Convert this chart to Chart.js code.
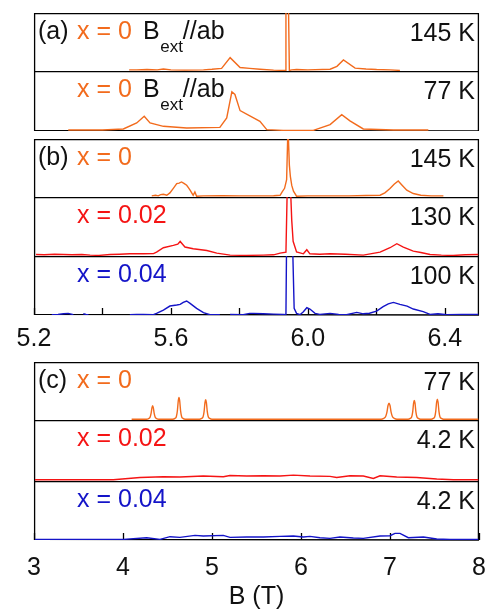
<!DOCTYPE html>
<html>
<head>
<meta charset="utf-8">
<script src="https://cdn.jsdelivr.net/npm/chart.js@4.4.1/dist/chart.umd.min.js"></script>
<style>
  html, body { margin: 0; padding: 0; background: #fff; overflow: hidden; }
  #wrap { position: relative; width: 489px; height: 614px; }
  canvas { position: absolute; left: 0; }
</style>
</head>
<body>
<div id="wrap">
  <canvas id="a1" width="489" height="58" style="top:13px"></canvas>
  <canvas id="a2" width="489" height="60" style="top:71px"></canvas>
  <canvas id="b1" width="489" height="58" style="top:139px"></canvas>
  <canvas id="b2" width="489" height="59" style="top:197px"></canvas>
  <canvas id="b3" width="489" height="99" style="top:256px"></canvas>
  <canvas id="c1" width="489" height="58" style="top:362px"></canvas>
  <canvas id="c2" width="489" height="61" style="top:420px"></canvas>
  <canvas id="c3" width="489" height="133" style="top:481px"></canvas>
</div>
<script>
// colours of the three compositions
const ORANGE = '#f26b1d';
const RED = '#f51414';
const BLUE = '#1414c8';
const FONT = '"Liberation Sans", Arial, Helvetica, sans-serif';

// field axes (T)
const bRange = [5.2, 6.5];
const cRange = [3, 8];
const bTickValues = [5.2, 5.4, 5.6, 5.8, 6.0, 6.2, 6.4];
const bTickLabels = ['5.2', '', '5.6', '', '6.0', '', '6.4'];
const cTickValues = [3, 4, 5, 6, 7, 8];
const cTickLabels = ['3', '4', '5', '6', '7', '8'];

// (a) x = 0, Bext//ab, 145 K
const a1B = [5.478, 5.50, 5.53, 5.56, 5.578, 5.60, 5.64, 5.695, 5.72, 5.748, 5.773, 5.802, 5.83, 5.86, 5.90, 5.930, 5.934, 5.936, 5.943, 5.946, 5.953, 5.967, 6.00, 6.065, 6.085, 6.104, 6.138, 6.17, 6.201, 6.24, 6.269];
const a1Y = [0.02, 0.02, 0.025, 0.02, 0.035, 0.02, 0.015, 0.02, 0.03, 0.045, 0.23, 0.06, 0.045, 0.03, 0.015, 0.01, 0.01, 1.3, 1.3, 0.01, 0.02, 0.025, 0.02, 0.03, 0.08, 0.19, 0.05, 0.035, 0.025, 0.02, 0.01];
// (a) x = 0, Bext//ab, 77 K
const a2B = [5.30, 5.40, 5.461, 5.50, 5.522, 5.539, 5.578, 5.646, 5.743, 5.763, 5.778, 5.787, 5.802, 5.860, 5.880, 5.928, 6.016, 6.065, 6.099, 6.123, 6.162, 6.25, 6.352];
const a2Y = [0.017, 0.017, 0.034, 0.134, 0.246, 0.134, 0.078, 0.05, 0.061, 0.218, 0.653, 0.608, 0.34, 0.162, 0.022, 0.011, 0.011, 0.106, 0.273, 0.17, 0.034, 0.017, 0.017];

// (b) x = 0, 145 K
const b1B = [5.544, 5.555, 5.563, 5.570, 5.578, 5.588, 5.597, 5.607, 5.617, 5.624, 5.631, 5.638, 5.646, 5.651, 5.656, 5.662, 5.665, 5.670, 5.675, 5.695, 5.75, 5.80, 5.85, 5.90, 5.919, 5.925, 5.932, 5.938, 5.941, 5.943, 5.946, 5.949, 5.953, 5.958, 5.967, 6.0, 6.065, 6.12, 6.17, 6.211, 6.225, 6.240, 6.252, 6.264, 6.276, 6.289, 6.308, 6.33, 6.36, 6.396];
const b1Y = [0.02, 0.03, 0.02, 0.04, 0.048, 0.031, 0.071, 0.15, 0.231, 0.24, 0.259, 0.235, 0.202, 0.16, 0.117, 0.06, 0.031, 0.088, 0.014, 0.02, 0.022, 0.02, 0.02, 0.022, 0.03, 0.09, 0.15, 0.3, 1.0, 1.05, 0.55, 0.35, 0.2, 0.1, 0.014, 0.02, 0.02, 0.02, 0.025, 0.031, 0.071, 0.145, 0.22, 0.276, 0.2, 0.117, 0.06, 0.03, 0.02, 0.02];
// (b) x = 0.02, 130 K
const b2B = [5.206, 5.23, 5.26, 5.286, 5.31, 5.34, 5.364, 5.39, 5.422, 5.45, 5.480, 5.52, 5.549, 5.558, 5.578, 5.607, 5.620, 5.627, 5.634, 5.641, 5.665, 5.705, 5.734, 5.773, 5.82, 5.870, 5.90, 5.919, 5.936, 5.940, 5.949, 5.953, 5.957, 5.967, 5.987, 5.997, 6.006, 6.035, 6.065, 6.11, 6.162, 6.211, 6.240, 6.260, 6.279, 6.308, 6.33, 6.357, 6.39, 6.425, 6.46, 6.498];
const b2Y = [0.026, 0.02, 0.03, 0.026, 0.02, 0.026, 0.015, 0.01, 0.026, 0.03, 0.037, 0.037, 0.04, 0.066, 0.14, 0.179, 0.2, 0.247, 0.2, 0.152, 0.123, 0.094, 0.049, 0.015, 0.01, 0.015, 0.02, 0.049, 0.066, 1.2, 1.2, 0.6, 0.25, 0.07, 0.037, 0.106, 0.037, 0.03, 0.037, 0.03, 0.015, 0.066, 0.14, 0.208, 0.152, 0.083, 0.06, 0.026, 0.015, 0.009, 0.02, 0.026];
// (b) x = 0.04, 100 K  (null = gap in the trace)
const b3B = [5.252, 5.27, 5.286, 5.300, 5.315, 5.33, 5.344, 5.352, 5.359, 5.372, 5.40, 5.480, 5.50, 5.519, 5.549, 5.558, 5.578, 5.597, 5.607, 5.617, 5.627, 5.636, 5.646, 5.656, 5.675, 5.695, 5.714, 5.743, 5.76, 5.773, 5.811, 5.83, 5.841, 5.870, 5.90, 5.928, 5.936, 5.938, 5.955, 5.960, 5.967, 5.977, 5.987, 5.997, 6.006, 6.021, 6.035, 6.065, 6.09, 6.113, 6.143, 6.162, 6.18, 6.201, 6.220, 6.235, 6.250, 6.269, 6.29, 6.308, 6.337, 6.357, 6.38, 6.406, 6.45, 6.498];
const b3Y = [0.005, 0.01, 0.022, 0.028, 0.005, null, 0.022, 0.01, 0.005, null, null, 0.005, 0.011, 0.011, 0.005, 0.028, 0.084, 0.152, 0.16, 0.169, 0.18, 0.214, 0.237, 0.197, 0.112, 0.039, 0.005, 0.005, null, 0.011, 0.005, 0.028, 0.028, 0.022, 0.015, 0.011, 0.005, 1.3, 1.3, 0.112, 0.028, 0.005, 0.056, 0.124, 0.101, 0.028, 0.011, 0.028, 0.01, 0.005, 0.045, 0.02, 0.03, 0.067, 0.141, 0.19, 0.214, 0.18, 0.15, 0.101, 0.056, 0.011, 0.02, 0.005, 0.01, 0.011];

// (c) x = 0, 77 K  (six resolved lines)
const c1B = [4.097,
  4.263, 4.288, 4.303, 4.315, 4.325, 4.333, 4.341, 4.351, 4.363, 4.378, 4.403,
  4.559, 4.584, 4.599, 4.611, 4.621, 4.629, 4.637, 4.647, 4.659, 4.674, 4.699,
  4.859, 4.884, 4.899, 4.911, 4.921, 4.929, 4.937, 4.947, 4.959, 4.974, 4.999,
  6.900, 6.930, 6.950, 6.965, 6.978, 6.989, 7.000, 7.013, 7.028, 7.048, 7.078,
  7.203, 7.228, 7.243, 7.255, 7.265, 7.273, 7.281, 7.291, 7.303, 7.318, 7.343,
  7.462, 7.487, 7.502, 7.514, 7.524, 7.532, 7.540, 7.550, 7.562, 7.577, 7.602,
  7.992];
const c1Y = [0.014,
  0.014, 0.025, 0.045, 0.11, 0.21, 0.245, 0.21, 0.11, 0.045, 0.025, 0.014,
  0.014, 0.028, 0.055, 0.16, 0.33, 0.389, 0.33, 0.16, 0.055, 0.028, 0.014,
  0.014, 0.027, 0.05, 0.145, 0.30, 0.349, 0.30, 0.145, 0.05, 0.027, 0.014,
  0.014, 0.028, 0.055, 0.13, 0.25, 0.291, 0.25, 0.13, 0.055, 0.028, 0.014,
  0.014, 0.027, 0.05, 0.14, 0.29, 0.337, 0.29, 0.14, 0.05, 0.027, 0.014,
  0.014, 0.028, 0.052, 0.15, 0.31, 0.36, 0.31, 0.15, 0.052, 0.028, 0.014,
  0.014];
// (c) x = 0.02, 4.2 K
const c2B = [3.011, 3.5, 3.891, 4.191, 4.453, 4.640, 4.902, 5.127, 5.202, 5.390, 5.577, 5.764, 5.914, 6.101, 6.326, 6.401, 6.551, 6.700, 6.813, 6.888, 7.075, 7.300, 7.525, 7.712, 7.992];
const c2Y = [0.021, 0.021, 0.021, 0.058, 0.07, 0.065, 0.081, 0.07, 0.091, 0.081, 0.086, 0.081, 0.097, 0.081, 0.075, 0.058, 0.086, 0.081, 0.042, 0.086, 0.065, 0.058, 0.032, 0.021, 0.021];
// (c) x = 0.04, 4.2 K
const c3B = [3.011, 3.5, 3.929, 4.004, 4.266, 4.416, 4.528, 4.640, 4.809, 4.902, 5.127, 5.202, 5.390, 5.577, 5.764, 5.914, 6.026, 6.101, 6.213, 6.326, 6.438, 6.588, 6.700, 6.888, 7.000, 7.056, 7.112, 7.206, 7.375, 7.525, 7.674, 7.992];
const c3Y = [0.008, 0.008, 0.008, 0.011, 0.039, 0.011, 0.056, 0.045, 0.079, 0.068, 0.079, 0.045, 0.051, 0.051, 0.062, 0.068, 0.051, 0.062, 0.039, 0.028, 0.051, 0.034, 0.028, 0.068, 0.073, 0.113, 0.113, 0.039, 0.051, 0.017, 0.008, 0.008];

Chart.defaults.font.family = FONT;

// frame under the trace, inward ticks and in-panel labels over it
const deco = {
  id: 'deco',
  beforeDatasetsDraw(chart, args, o) {
    const {ctx, chartArea: a} = chart;
    ctx.save();
    ctx.strokeStyle = '#000';
    ctx.lineWidth = 1.3;
    ctx.beginPath();
    ctx.moveTo(a.left + 0.6, a.bottom);
    ctx.lineTo(a.left + 0.6, a.top + 0.6);
    ctx.lineTo(a.right - 0.6, a.top + 0.6);
    ctx.lineTo(a.right - 0.6, a.bottom);
    if (o.closed) ctx.lineTo(a.left + 0.6, a.bottom - 0.6);
    ctx.stroke();
    if (o.ticksIn) {
      const sx = chart.scales.x;
      ctx.lineWidth = 1.3;
      sx.ticks.forEach(t => {
        const px = Math.round(sx.getPixelForValue(t.value)) + 0.5;
        ctx.beginPath();
        ctx.moveTo(px, a.bottom);
        ctx.lineTo(px, a.bottom - 7);
        ctx.stroke();
      });
    }
    ctx.restore();
  },
  afterDatasetsDraw(chart, args, o) {
    const {ctx, chartArea: a} = chart;
    ctx.save();
    const yb = a.top + 25.5, yt = a.top + 27.5;
    ctx.font = '25px ' + FONT;
    ctx.textBaseline = 'alphabetic';
    ctx.textAlign = 'left';
    if (o.tag) {
      ctx.fillStyle = '#111';
      ctx.fillText(o.tag, 38, yb);
    }
    ctx.fillStyle = o.color;
    ctx.fillText(o.label, 77, yb);
    if (o.bext) {
      let bx = 143;
      ctx.fillStyle = '#111';
      ctx.fillText('B', bx, yb);
      bx += ctx.measureText('B').width + 0.5;
      ctx.font = '17px ' + FONT;
      ctx.fillText('ext', bx, yb + 13);
      bx += ctx.measureText('ext').width;
      ctx.font = '25px ' + FONT;
      ctx.fillText('//ab', bx, yb);
    }
    ctx.fillStyle = '#111';
    ctx.textAlign = 'right';
    ctx.fillText(o.temp, 475, yt);
    ctx.restore();
  }
};

function xAxis(range, values, labels, pad, height, title) {
  return {
    type: 'linear', min: range[0], max: range[1], display: true,
    grid: {display: false, drawTicks: false},
    border: {display: false},
    afterBuildTicks: s => { s.ticks = values.map(v => ({value: v})); },
    afterFit: s => { s.height = height; s.paddingLeft = 0; s.paddingRight = 0; },
    ticks: {
      autoSkip: false, maxRotation: 0, padding: pad, color: '#111',
      font: {size: 25},
      callback: (v, i) => labels[i]
    },
    title: title ? {display: true, text: title, color: '#111', font: {size: 25}, padding: {top: 0, bottom: 2}} : {display: false}
  };
}

function makePanel(id, B, Y, color, range, opts, axis) {
  return new Chart(document.getElementById(id), {
    type: 'line',
    data: {
      datasets: [{
        data: B.map((b, i) => ({x: b, y: Y[i]})),
        borderColor: color,
        borderWidth: 1.4,
        pointRadius: 0,
        spanGaps: false,
        tension: opts.smooth ? 0.4 : 0,
        cubicInterpolationMode: opts.smooth ? 'monotone' : 'default'
      }]
    },
    options: {
      responsive: false,
      animation: false,
      events: [],
      layout: {padding: {left: 34, right: 10, top: 0, bottom: 0}},
      plugins: {legend: {display: false}, tooltip: {enabled: false}, deco: Object.assign({color: color}, opts)},
      scales: {
        x: axis || {type: 'linear', min: range[0], max: range[1], display: false},
        y: {min: 0, max: 1, display: false}
      }
    },
    plugins: [deco]
  });
}

makePanel('a1', a1B, a1Y, ORANGE, bRange, {tag: '(a)', label: 'x = 0', bext: true, temp: '145 K'});
makePanel('a2', a2B, a2Y, ORANGE, bRange, {label: 'x = 0', bext: true, temp: '77 K', closed: true});
makePanel('b1', b1B, b1Y, ORANGE, bRange, {tag: '(b)', label: 'x = 0', temp: '145 K'});
makePanel('b2', b2B, b2Y, RED, bRange, {label: 'x = 0.02', temp: '130 K'});
makePanel('b3', b3B, b3Y, BLUE, bRange, {label: 'x = 0.04', temp: '100 K', closed: true, ticksIn: true},
  xAxis(bRange, bTickValues, bTickLabels, 9, 40));
makePanel('c1', c1B, c1Y, ORANGE, cRange, {tag: '(c)', label: 'x = 0', temp: '77 K', smooth: true});
makePanel('c2', c2B, c2Y, RED, cRange, {label: 'x = 0.02', temp: '4.2 K'});
makePanel('c3', c3B, c3Y, BLUE, cRange, {label: 'x = 0.04', temp: '4.2 K', closed: true, ticksIn: true},
  xAxis(cRange, cTickValues, cTickLabels, 13, 74, 'B (T)'));
</script>
</body>
</html>
